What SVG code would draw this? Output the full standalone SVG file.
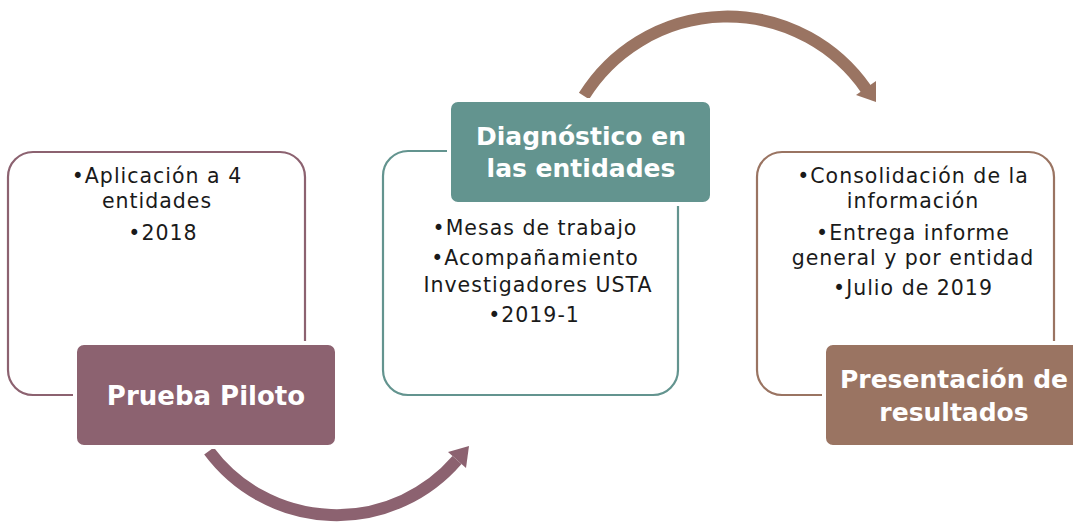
<svg xmlns="http://www.w3.org/2000/svg" width="1073" height="524" viewBox="0 0 1073 524">
<style>
.body{font-family:"DejaVu Sans","Liberation Sans",sans-serif;font-size:20.5px;letter-spacing:1px;fill:#1a1a1a;text-anchor:middle}
.head{font-family:"DejaVu Sans","Liberation Sans",sans-serif;font-size:25px;font-weight:bold;fill:#ffffff;text-anchor:middle}
.outline{fill:#ffffff;stroke-width:2.2}
.label{stroke:#ffffff;stroke-width:4}
</style>
<rect width="1073" height="524" fill="#ffffff"/>
<g id="connectors">
<path d="M 209 451 A 159 159 0 0 0 457 460" fill="none" stroke="#8c6270" stroke-width="12"/>
<polygon points="469,446 466,468 448,452" fill="#8c6270"/>
<path d="M 584 96 A 169 169 0 0 1 866 89" fill="none" stroke="#9a7462" stroke-width="12"/>
<polygon points="876,102 856,95 876,81" fill="#9a7462"/>
</g>
<g id="prueba-piloto">
<rect class="outline" x="8" y="152" width="297" height="243" rx="25" stroke="#8c6270"/>
<text class="body" x="157" y="183">•Aplicación a 4</text>
<text class="body" x="157" y="208">entidades</text>
<text class="body" x="163" y="240">•2018</text>
<rect class="label" x="75" y="343" width="262" height="104" rx="9" fill="#8c6270"/>
<text class="head" x="206" y="405" style="font-size:26px">Prueba Piloto</text>
</g>
<g id="diagnostico">
<rect class="outline" x="383" y="151" width="295" height="244" rx="25" stroke="#63948f"/>
<text class="body" x="535" y="235">•Mesas de trabajo</text>
<text class="body" x="535" y="265">•Acompañamiento</text>
<text class="body" x="538" y="292">Investigadores USTA</text>
<text class="body" x="534" y="322">•2019-1</text>
<rect class="label" x="449" y="100" width="263" height="104" rx="9" fill="#63948f"/>
<text class="head" x="581" y="145">Diagnóstico en</text>
<text class="head" x="581" y="177">las entidades</text>
</g>
<g id="presentacion">
<rect class="outline" x="757" y="152" width="297" height="243" rx="25" stroke="#9a7462"/>
<text class="body" x="913" y="183">•Consolidación de la</text>
<text class="body" x="913" y="208">información</text>
<text class="body" x="913" y="240">•Entrega informe</text>
<text class="body" x="913" y="265">general y por entidad</text>
<text class="body" x="913" y="295">•Julio de 2019</text>
<rect class="label" x="824" y="343" width="264" height="104" rx="9" fill="#9a7462"/>
<text class="head" x="954" y="388">Presentación de</text>
<text class="head" x="954" y="421">resultados</text>
</g>
</svg>
